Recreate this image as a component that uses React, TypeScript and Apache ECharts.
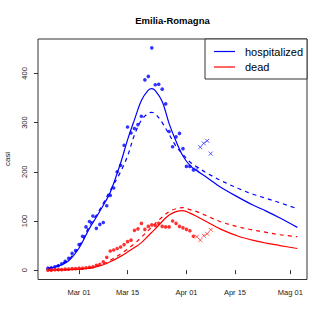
import React, { useEffect, useRef } from 'react';
import * as echarts from 'echarts';

const chartTitle = 'Emilia-Romagna';
const yAxisTitle = 'casi';
const legendLabels = ['hospitalized', 'dead'];

// daily observations (one per day from dotStartDate)
const dotStartDate = '2020-02-21';
const hospitalizedDots = [4, 5, 7, 9, 13, 18, 24, 34, 40, 52, 69, 88, 99, 110, 85, 93, 97, 131, 152, 167, 200, 213, 254, 291, 279, 288, 296, 313, 387, 394, 452, 377, 378, 368, 338, 282, 251, 271, 278, 247, 211, 211, 204];
const deadDots = [0, 0, 1, 1, 1, 2, 2, 3, 3, 4, 4, 5, 6, 7, 10, 12, 17, 26, 39, 41, 44, 47, 52, 58, 61, 81, 84, 95, 83, 89, 92, 91, 95, 89, 88, 88, 100, 95, 89, 86, 83, 80, 69];

// later observations drawn as crosses
const crossStartDate = '2020-04-04';
const hospitalizedCrosses = [205, 250, 258, 263, 237];
const deadCrosses = [68, 61, 70, 74, 82];

// fitted curves
const curveDates = ['2020-02-21', '2020-02-24', '2020-02-27', '2020-03-01', '2020-03-04', '2020-03-06', '2020-03-08', '2020-03-10', '2020-03-13', '2020-03-15', '2020-03-17', '2020-03-19', '2020-03-21', '2020-03-22', '2020-03-23', '2020-03-25', '2020-03-27', '2020-03-29', '2020-03-31', '2020-04-02', '2020-04-04', '2020-04-07', '2020-04-11', '2020-04-16', '2020-04-20', '2020-04-24', '2020-04-28', '2020-05-03'];
const hospFitSolid = [3, 8, 19, 45, 85, 108, 132, 158, 218, 265, 306, 345, 366, 369, 365, 343, 298, 262, 232, 213, 202, 188, 168, 148, 133, 120, 106, 87];
const hospFitDashed = [4, 10, 22, 48, 90, 112, 136, 162, 200, 232, 275, 305, 319, 321, 318, 300, 276, 252, 235, 220, 210, 197, 182, 166, 155, 146, 137, 125];
const deadFitSolid = [0, 0.5, 1, 2, 4, 7, 11, 17, 28, 37, 46, 56, 70, 77, 84, 99, 112, 119, 121, 116, 109, 98, 83, 69, 61, 55, 50, 44];
const deadFitDashed = [0, 0.5, 1, 2, 4, 8, 13, 20, 33, 43, 54, 67, 81, 88, 95, 108, 119, 125, 127, 123, 119, 110, 98, 88, 82, 77, 72, 68];

const xTickDates = ['2020-03-01', '2020-03-15', '2020-04-01', '2020-04-15', '2020-05-01'];
const xTickLabels = ['Mar 01', 'Mar 15', 'Apr 01', 'Apr 15', 'Mag 01'];
const yTicks = [0, 100, 200, 300, 400];

const DAY = 86400000;
const ts = (s: string) => {
  const [y, m, d] = s.split('-').map(Number);
  return Date.UTC(y, m - 1, d);
};
const daily = (start: string, vals: number[]) => vals.map((v, i) => [ts(start) + i * DAY, v]);
const pairs = (dates: string[], vals: number[]) => dates.map((d, i) => [ts(d), vals[i]]);

const BLUE = '#0000ff';
const RED = '#ff0000';
const FONT = 'Liberation Sans, Arial, Helvetica, sans-serif';
const CROSS = 'path://M0,0L10,10M10,0L0,10';

export default function App() {
  const ref = useRef<HTMLDivElement>(null);
  useEffect(() => {
    if (!ref.current) return;
    const chart = echarts.init(ref.current, null, { renderer: 'svg' });
    const mar1 = ts('2020-03-01');
    const tickTs = xTickDates.map(ts);
    const lineSeries = (name: string, data: number[], color: string, dashed: boolean) => ({
      type: 'line',
      name,
      data: pairs(curveDates, data),
      showSymbol: false,
      smooth: 0.35,
      lineStyle: { color, width: 1.2, type: dashed ? [4, 4] : 'solid' },
      z: 3,
    });
    const baseGraphic = [
      { id: 'title', type: 'text', x: 172.5, y: 20, style: { text: chartTitle, font: `bold 9.5px ${FONT}`, fill: '#000', align: 'center', verticalAlign: 'middle' } },
      { id: 'ytitle', type: 'text', x: 7, y: 159, rotation: Math.PI / 2, style: { text: yAxisTitle, font: `8px ${FONT}`, fill: '#222', align: 'center', verticalAlign: 'middle' } },
      { id: 'lgbox', type: 'rect', shape: { x: 205, y: 39, width: 102, height: 40 }, style: { fill: '#fff', stroke: '#333', lineWidth: 1 }, z: 10 },
      { id: 'lg1', type: 'line', shape: { x1: 214, y1: 51.5, x2: 235, y2: 51.5 }, style: { stroke: BLUE, lineWidth: 1.2 }, z: 11 },
      { id: 'lg2', type: 'line', shape: { x1: 214, y1: 67, x2: 235, y2: 67 }, style: { stroke: RED, lineWidth: 1.2 }, z: 11 },
      { id: 'lt1', type: 'text', x: 245, y: 51.5, style: { text: legendLabels[0], font: `11px ${FONT}`, fill: '#000', verticalAlign: 'middle' }, z: 11 },
      { id: 'lt2', type: 'text', x: 245, y: 67, style: { text: legendLabels[1], font: `11px ${FONT}`, fill: '#000', verticalAlign: 'middle' }, z: 11 },
    ];
    chart.setOption({
      animation: false,
      grid: { left: 38, right: 20, top: 39, bottom: 47.5, show: true, borderColor: '#333', borderWidth: 1 },
      xAxis: {
        type: 'value',
        min: mar1 - 11.85 * DAY,
        max: mar1 + 65.8 * DAY,
        splitLine: { show: false },
        axisLine: { show: false },
        axisTick: { show: true, length: 4, lineStyle: { color: '#333' }, customValues: tickTs },
        axisLabel: {
          customValues: tickTs,
          margin: 9,
          fontSize: 7.5,
          color: '#222',
          fontFamily: FONT,
          formatter: (v: number) => {
            const i = tickTs.indexOf(v);
            return i >= 0 ? xTickLabels[i] : '';
          },
        },
      },
      yAxis: {
        type: 'value',
        min: -19,
        max: 470,
        splitLine: { show: false },
        axisLine: { show: false },
        axisTick: { show: true, length: 4, lineStyle: { color: '#333' }, customValues: yTicks },
        axisLabel: { show: false, customValues: yTicks },
      },
      series: [
        lineSeries('hospitalized fit', hospFitSolid, BLUE, false),
        lineSeries('hospitalized fit 2', hospFitDashed, BLUE, true),
        lineSeries('dead fit', deadFitSolid, RED, false),
        lineSeries('dead fit 2', deadFitDashed, RED, true),
        { type: 'scatter', name: 'hospitalized', data: daily(dotStartDate, hospitalizedDots), symbol: 'circle', symbolSize: 3.6, itemStyle: { color: BLUE }, z: 4 },
        { type: 'scatter', name: 'dead', data: daily(dotStartDate, deadDots), symbol: 'circle', symbolSize: 3.6, itemStyle: { color: RED }, z: 4 },
        { type: 'scatter', name: 'hospitalized new', data: daily(crossStartDate, hospitalizedCrosses), symbol: CROSS, symbolSize: 4, itemStyle: { color: BLUE, borderColor: BLUE, borderWidth: 0.8 }, z: 4 },
        { type: 'scatter', name: 'dead new', data: daily(crossStartDate, deadCrosses), symbol: CROSS, symbolSize: 4, itemStyle: { color: RED, borderColor: RED, borderWidth: 0.8 }, z: 4 },
      ],
      graphic: baseGraphic,
    });
    // y tick labels, rotated like R's default, placed through the axis scale
    const yLabelGraphic = yTicks.map((v, i) => ({
      id: 'ylab' + i,
      type: 'text',
      x: 24,
      y: chart.convertToPixel({ yAxisIndex: 0 }, v) as number,
      rotation: Math.PI / 2,
      style: { text: String(v), font: `7.5px ${FONT}`, fill: '#222', align: 'center', verticalAlign: 'middle' },
    }));
    chart.setOption({ graphic: [...baseGraphic, ...yLabelGraphic] });
    return () => chart.dispose();
  }, []);
  return <div ref={ref} style={{ position: 'fixed', left: 0, top: 0, width: 327, height: 327, background: '#fff' }} />;
}
